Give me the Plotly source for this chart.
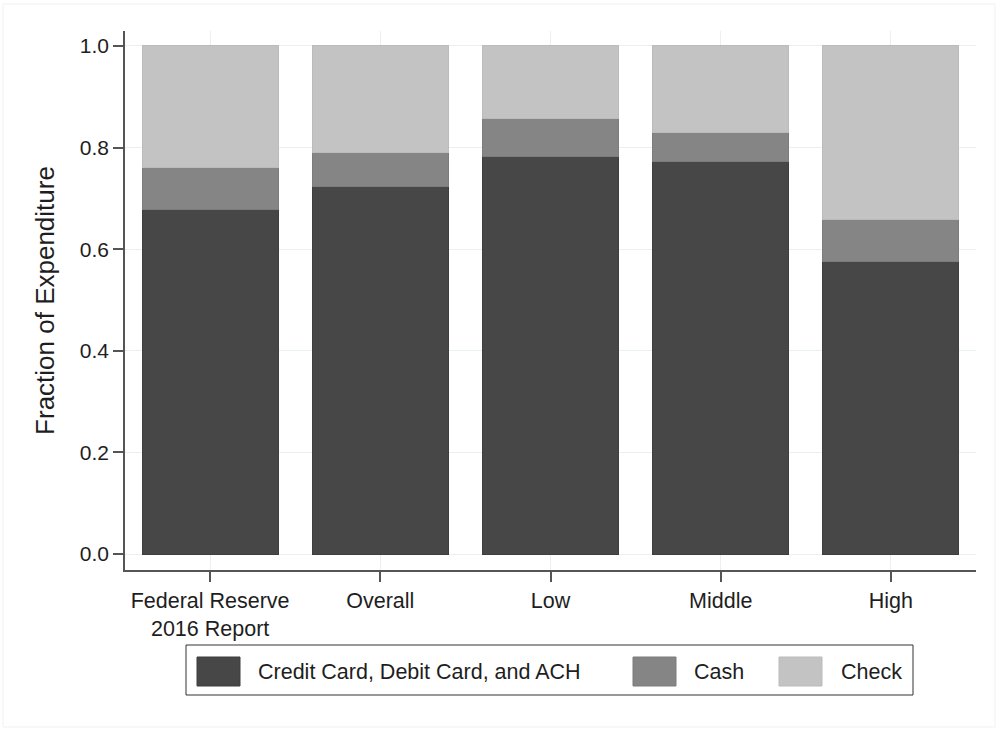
import plotly.graph_objects as go

categories = ["Federal Reserve<br>2016 Report", "Overall", "Low", "Middle", "High"]
credit_debit_ach = [0.679, 0.724, 0.783, 0.773, 0.575]
cash = [0.082, 0.066, 0.075, 0.056, 0.084]
check = [0.239, 0.210, 0.142, 0.171, 0.341]
series_names = ["Credit Card, Debit Card, and ACH", "Cash", "Check"]
series_values = [credit_debit_ach, cash, check]
series_colors = ["#474747", "#858585", "#c3c3c3"]
series_edges = ["#3e3e3e", "#7c7c7c", "#bbbbbb"]
y_ticks = [0.0, 0.2, 0.4, 0.6, 0.8, 1.0]

W, H = 1001, 730
L, R, T, B = 125, 25, 31, 160
PW, PH = W - L - R, H - T - B

def px(x):
    return (x - L) / PW

def py(y):
    return (H - B - y) / PH

FONT = "Liberation Sans, Arial, sans-serif"
TXT = "#1e1e1e"

fig = go.Figure()
for name, vals, col, edge in zip(series_names, series_values, series_colors, series_edges):
    fig.add_trace(go.Bar(
        x=categories, y=vals, name=name, width=0.8,
        marker=dict(color=col, line=dict(color=edge, width=1)),
        showlegend=False,
    ))

shapes = []
annotations = []
# outer faint frame
shapes.append(dict(type="rect", xref="paper", yref="paper",
                   x0=px(3), x1=px(995), y0=py(727), y1=py(4),
                   line=dict(color="#eef1f4", width=1), fillcolor="rgba(0,0,0,0)", layer="below"))
# legend box
shapes.append(dict(type="rect", xref="paper", yref="paper",
                   x0=px(186), x1=px(913), y0=py(695), y1=py(645),
                   line=dict(color="#333333", width=1), fillcolor="white"))
swatch_left = [197, 633, 779]
text_left = [256, 692, 839]
for name, col, edge, sx, tx in zip(series_names, series_colors, series_edges, swatch_left, text_left):
    shapes.append(dict(type="rect", xref="paper", yref="paper",
                       x0=px(sx), x1=px(sx + 43), y0=py(686), y1=py(657),
                       line=dict(color=edge, width=1), fillcolor=col))
    annotations.append(dict(text=name, xref="paper", yref="paper",
                            x=px(tx), y=py(671.5), xanchor="left", yanchor="middle",
                            showarrow=False, font=dict(family=FONT, size=21.5, color=TXT)))

fig.update_layout(
    width=W, height=H,
    margin=dict(l=L, r=R, t=T, b=B, autoexpand=False),
    barmode="stack",
    plot_bgcolor="white", paper_bgcolor="white",
    font=dict(family=FONT, size=21, color=TXT),
    shapes=shapes, annotations=annotations,
    showlegend=False,
)
fig.update_xaxes(
    range=[-0.5, 4.5], showline=True, linecolor="#555555", linewidth=1.5,
    ticks="outside", ticklen=10, tickcolor="#555555", tickwidth=1.5,
    showgrid=True, gridcolor="#e8f0f2", gridwidth=1,
    tickfont=dict(family=FONT, size=21.5, color=TXT),
)
fig.update_yaxes(
    range=[-0.0315, 1.0295], tickvals=y_ticks, tickformat=".1f",
    showline=True, linecolor="#555555", linewidth=1.5,
    ticks="outside", ticklen=10, tickcolor="#555555", tickwidth=1.5,
    showgrid=True, gridcolor="#e8f0f2", gridwidth=1, zeroline=False,
    tickfont=dict(family=FONT, size=21, color=TXT),
    title=dict(text="Fraction of Expenditure", standoff=18,
               font=dict(family=FONT, size=26, color=TXT)),
)

fig.write_html("out.html",
               config={"displayModeBar": False},
               post_script="document.body.style.margin='0';document.body.style.padding='0';")
